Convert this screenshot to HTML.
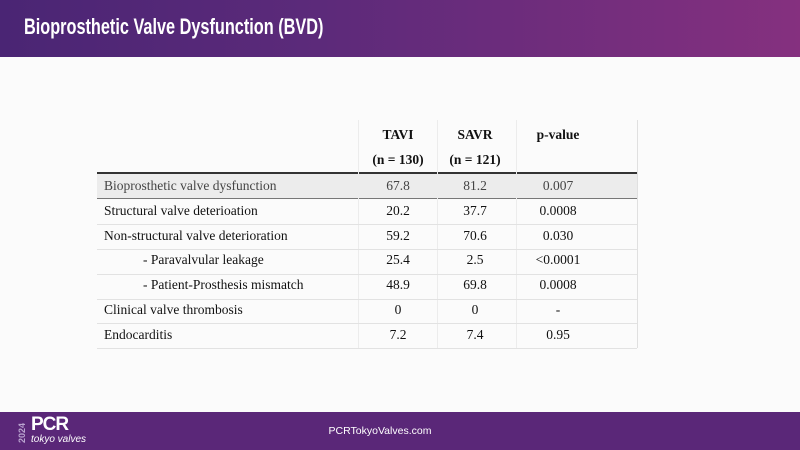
<!DOCTYPE html>
<html><head><meta charset="utf-8"><style>
*{margin:0;padding:0;box-sizing:border-box}
body{width:800px;height:450px;position:relative;background:#fff;overflow:hidden;font-family:"Liberation Sans",sans-serif}
#hdr{position:absolute;left:0;top:0;width:800px;height:57px;background:linear-gradient(90deg,#4a2574 0%,#5c2a7a 40%,#85307f 100%)}
#hdr h1{position:absolute;left:24px;top:14px;color:#fff;font-size:22px;font-weight:bold;white-space:nowrap;transform:scaleX(0.74);transform-origin:left top}
#body{position:absolute;left:0;top:57px;width:800px;height:355px;background:#fbfbfb}
#ftr{position:absolute;left:0;top:412px;width:800px;height:38px;background:#5a2778}
.t{position:absolute;font-family:"Liberation Serif",serif;font-size:13.5px;color:#111;white-space:nowrap}
.c{transform:translateX(-50%)}
.hl{font-weight:bold}
.vl{position:absolute;width:1px;background:#ececec}
.hr{position:absolute;left:97px;width:540px;height:1px;background:#e2e2e2}
</style></head><body>
<div id="hdr"><h1>Bioprosthetic Valve Dysfunction (BVD)</h1></div>
<div id="body"></div>
<div id="table">
<div style="position:absolute;left:97px;top:174px;width:540px;height:24px;background:#ececec"></div>
<div style="position:absolute;left:97px;top:172px;width:540px;height:2px;background:#333"></div>
<div style="position:absolute;left:97px;top:198px;width:540px;height:1px;background:#777"></div>
<div class="vl" style="left:358px;top:120px;height:228px"></div>
<div class="vl" style="left:437px;top:120px;height:228px"></div>
<div class="vl" style="left:516px;top:120px;height:228px"></div>
<div class="vl" style="left:637px;top:120px;height:228px;background:#e0e0e0"></div>
<div class="hr" style="top:224px"></div><div class="hr" style="top:249px"></div><div class="hr" style="top:274px"></div>
<div class="hr" style="top:299px"></div><div class="hr" style="top:323px"></div><div class="hr" style="top:348px"></div>
<div class="t c hl" style="left:398px;top:127px">TAVI</div>
<div class="t c hl" style="left:398px;top:152px">(n = 130)</div>
<div class="t c hl" style="left:475px;top:127px">SAVR</div>
<div class="t c hl" style="left:475px;top:152px">(n = 121)</div>
<div class="t c hl" style="left:558px;top:127px">p-value</div>
<div id="rows"></div>
</div>
<div id="ftr">
<div style="position:absolute;left:17px;color:#b9a3cf;font-size:9px;font-weight:bold;transform:rotate(-90deg);transform-origin:left top;top:31px">2024</div>
<div style="position:absolute;left:31px;top:2px;color:#fff;font-size:19px;font-weight:bold;letter-spacing:-1px">PCR</div>
<div style="position:absolute;left:31px;top:22px;color:#fff;font-size:10px;font-style:italic">tokyo valves</div>
<div style="position:absolute;left:380px;top:13px;transform:translateX(-50%);color:#fff;font-size:10.5px">PCRTokyoValves.com</div>
</div>
<script>
const labels=["Bioprosthetic valve dysfunction","Structural valve deterioation","Non-structural valve deterioration","- Paravalvular leakage","- Patient-Prosthesis mismatch","Clinical valve thrombosis","Endocarditis"];
const indent=[0,0,0,1,1,0,0];
const tavi=["67.8","20.2","59.2","25.4","48.9","0","7.2"];
const savr=["81.2","37.7","70.6","2.5","69.8","0","7.4"];
const pval=["0.007","0.0008","0.030","<0.0001","0.0008","-","0.95"];
const rows=document.getElementById('rows');
function cell(txt,x,y,center,color){const d=document.createElement('div');d.className='t'+(center?' c':'');d.style.left=x+'px';d.style.top=y+'px';if(color)d.style.color=color;d.textContent=txt;rows.appendChild(d);return d;}
labels.forEach((l,i)=>{
 const y=178+i*24.8;const col=i===0?'#444':null;
 let d=cell(l,indent[i]?143:104,y,false,col);
 
 
 d=cell(tavi[i],398,y,true,col);
 
 
 d=cell(savr[i],475,y,true,col);
 
 
 d=cell(pval[i],558,y,true,col);
 
 
});
</script>
</body></html>
